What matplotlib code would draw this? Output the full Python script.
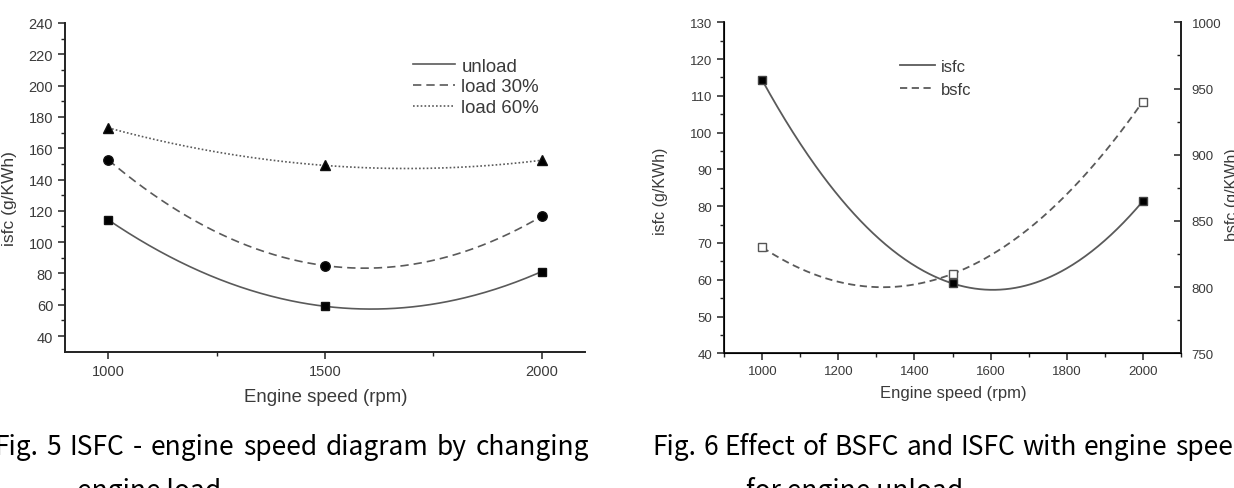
import numpy as np
import matplotlib
matplotlib.use("Agg")
import matplotlib.pyplot as plt
from matplotlib.ticker import MultipleLocator, FixedLocator

plt.rcParams['font.family'] = ['Liberation Sans', 'DejaVu Sans']

# ---------------- data ----------------
speed = [1000, 1500, 2000]
isfc_unload = [114.2, 59.0, 81.2]
isfc_load30 = [152.5, 85.0, 116.5]
isfc_load60 = [173.0, 149.0, 152.3]

isfc_fig6 = [114.2, 59.0, 81.3]
bsfc_fig6 = [830, 810, 940]

caption5 = ["Fig. 5 ISFC - engine speed diagram by changing", "engine load"]
caption6 = ["Fig. 6 Effect of BSFC and ISFC with engine speed", "for engine unload"]

W, H = 1234, 489
fig = plt.figure(figsize=(W / 100, H / 100), dpi=100)


def smooth(x, y):
    xs = np.linspace(min(x), max(x), 300)
    return xs, np.polyval(np.polyfit(x, y, 2), xs)


def px_axes(l, t, r, b):
    return fig.add_axes([l / W, 1 - b / H, (r - l) / W, (b - t) / H])


LC = '#5a5a5a'
TC = '#3a3a3a'

# ---------------- Fig. 5 ----------------
ax1 = px_axes(65, 24, 585, 352.7)
ax1.set_xlim(900, 2100)
ax1.set_ylim(30, 240)
for s in ['top', 'right']:
    ax1.spines[s].set_visible(False)
for s in ['left', 'bottom']:
    ax1.spines[s].set_linewidth(1.4)
    ax1.spines[s].set_color('#222222')
ax1.xaxis.set_major_locator(FixedLocator([1000, 1500, 2000]))
ax1.xaxis.set_minor_locator(FixedLocator([1250, 1750]))
ax1.set_yticks(np.arange(40, 241, 20))
ax1.yaxis.set_minor_locator(FixedLocator(np.arange(50, 240, 20)))
ax1.tick_params(which='major', direction='out', length=5, width=1.1, labelsize=10.5,
                colors='#222222', labelcolor=TC)
ax1.tick_params(which='minor', direction='out', length=3, width=1.0, colors='#222222')

for vals, ls, mk, ms, lab in [(isfc_unload, '-', 's', 5.8, 'unload'),
                              (isfc_load30, (0, (5, 3)), 'o', 6.8, 'load 30%'),
                              (isfc_load60, (0, (1, 1.3)), '^', 7.0, 'load 60%')]:
    xs, ys = smooth(speed, vals)
    ax1.plot(xs, ys, color=LC, linestyle=ls, linewidth=1.2, label=lab)
    ax1.plot(speed, vals, linestyle='none', marker=mk, markersize=ms,
             color='black', markeredgecolor='#111111')

leg1 = ax1.legend(loc='upper left', bbox_to_anchor=(348 / 520, 0.895), frameon=False,
                  fontsize=13.4, handlelength=2.25, handletextpad=0.35,
                  labelspacing=0.2, borderaxespad=0, borderpad=0)
for t in leg1.get_texts():
    t.set_color(TC)

fig.text(10 / W, 1 - 199 / H, 'isfc (g/KWh)', rotation=90, ha='center', va='center',
         fontsize=12.5, color=TC)
fig.text(326 / W, 1 - 397 / H, 'Engine speed (rpm)', ha='center', va='center',
         fontsize=13.4, color=TC)

# ---------------- Fig. 6 ----------------
ax2 = px_axes(724.3, 23.3, 1180.7, 354.3)
ax2.set_xlim(900, 2100)
ax2.set_ylim(40, 130)
ax2.spines['top'].set_visible(False)
for s in ['left', 'bottom', 'right']:
    ax2.spines[s].set_linewidth(1.4)
    ax2.spines[s].set_color('#222222')
ax2.xaxis.set_major_locator(MultipleLocator(200))
ax2.xaxis.set_minor_locator(MultipleLocator(100))
ax2.yaxis.set_major_locator(MultipleLocator(10))
ax2.yaxis.set_minor_locator(MultipleLocator(5))
ax2.tick_params(which='major', direction='out', length=5, width=1.1, labelsize=9.5,
                colors='#222222', labelcolor=TC)
ax2.tick_params(which='minor', direction='out', length=3, width=1.0, colors='#222222')

ax2r = ax2.twinx()
ax2r.set_ylim(750, 1000)
ax2r.spines['top'].set_visible(False)
ax2r.spines['right'].set_linewidth(1.4)
ax2r.spines['right'].set_color('#222222')
ax2r.yaxis.set_major_locator(MultipleLocator(50))
ax2r.yaxis.set_minor_locator(MultipleLocator(25))
ax2r.tick_params(which='major', direction='in', length=5, width=1.1, labelsize=9.5,
                 colors='#222222', labelcolor=TC, pad=8)
ax2r.tick_params(which='minor', direction='in', length=3, width=1.0, colors='#222222')

xs, ys = smooth(speed, isfc_fig6)
l1, = ax2.plot(xs, ys, color=LC, linestyle='-', linewidth=1.3, label='isfc')
ax2.plot(speed, isfc_fig6, linestyle='none', marker='s', markersize=5.5,
         color='black', markeredgecolor='#444444', zorder=5)
xs, ys = smooth(speed, bsfc_fig6)
l2, = ax2r.plot(xs, ys, color=LC, linestyle=(0, (4, 2.5)), linewidth=1.3, label='bsfc')
ax2r.plot(speed, bsfc_fig6, linestyle='none', marker='s', markersize=5.5,
          markerfacecolor='white', markeredgecolor='#555555', markeredgewidth=1.0, zorder=5)

leg2 = ax2r.legend([l1, l2], ['isfc', 'bsfc'], loc='upper left',
                   bbox_to_anchor=(176 / 456.4, 0.89), frameon=False, fontsize=12,
                   handlelength=2.1, handletextpad=0.35, labelspacing=0.5,
                   borderaxespad=0, borderpad=0)
for t in leg2.get_texts():
    t.set_color(TC)

fig.text(661 / W, 1 - 191 / H, 'isfc (g/KWh)', rotation=90, ha='center', va='center',
         fontsize=11.5, color=TC)
fig.text(1233 / W, 1 - 195 / H, 'bsfc (g/KWh)', rotation=90, ha='center', va='center',
         fontsize=11.5, color=TC)
fig.text(953 / W, 1 - 394 / H, 'Engine speed (rpm)', ha='center', va='center',
         fontsize=12, color=TC)

# ---------------- captions ----------------
CAP_FONT = ['Noto Sans CJK KR', 'DejaVu Sans']
CAP_SIZE = 19.0
CAP_WEIGHT = 'medium'
renderer = fig.canvas.get_renderer()


def justified(line, x0, x1, y):
    words = line.split(' ')
    texts = [fig.text(0, 1 - y / H, w, fontsize=CAP_SIZE, family=CAP_FONT,
                      weight=CAP_WEIGHT, va='baseline', ha='left', color='black')
             for w in words]
    widths = [t.get_window_extent(renderer).width for t in texts]
    gap = (x1 - x0 - sum(widths)) / (len(words) - 1)
    x = x0
    for t, w in zip(texts, widths):
        t.set_x(x / W)
        x += w + gap


justified(caption5[0], -6, 589, 455)
fig.text(77 / W, 1 - 499 / H, caption5[1], fontsize=CAP_SIZE, family=CAP_FONT,
         weight=CAP_WEIGHT, va='baseline', ha='left', color='black')
justified(caption6[0], 652, 1249, 455)
fig.text(746 / W, 1 - 499 / H, caption6[1], fontsize=CAP_SIZE, family=CAP_FONT,
         weight=CAP_WEIGHT, va='baseline', ha='left', color='black')

fig.savefig('out.png', dpi=100, facecolor='white')
